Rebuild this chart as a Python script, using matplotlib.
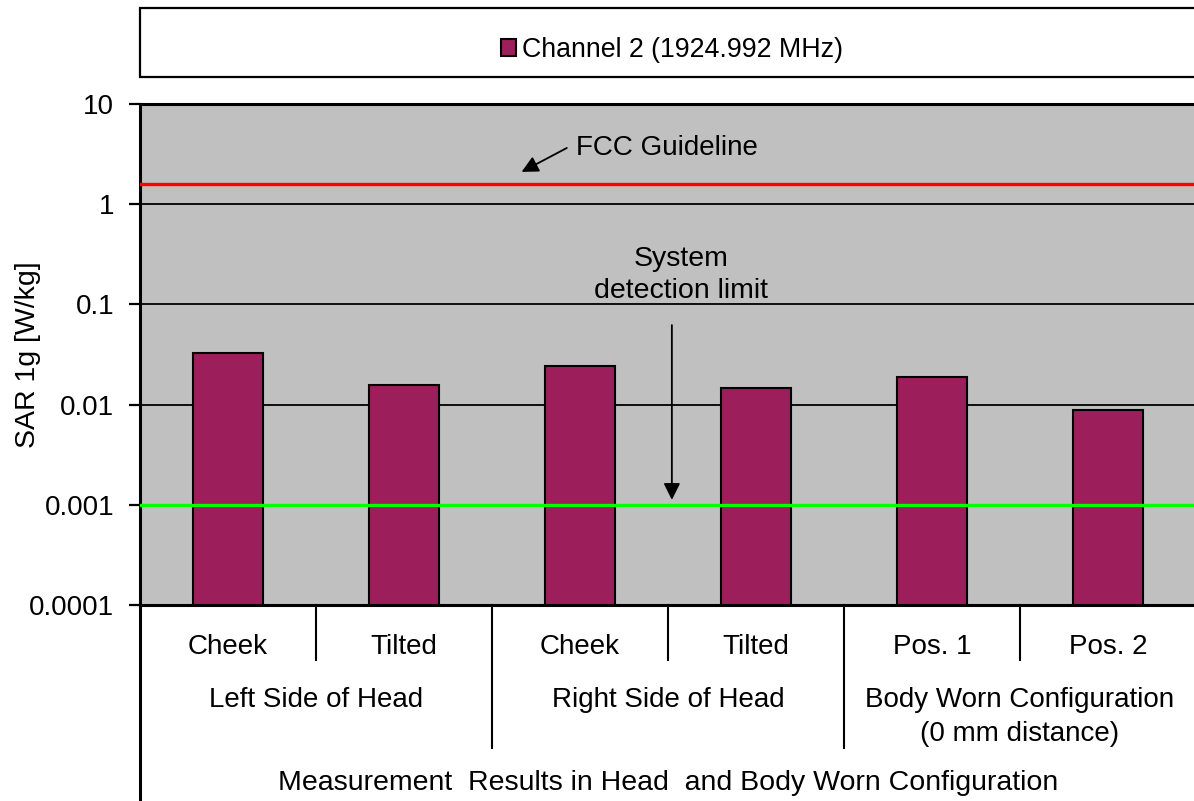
import matplotlib
matplotlib.use("Agg")
import matplotlib.pyplot as plt
from matplotlib.patches import Rectangle
from matplotlib.lines import Line2D

# ---- data ----
sub_labels = ["Cheek", "Tilted", "Cheek", "Tilted", "Pos. 1", "Pos. 2"]
group_labels = ["Left Side of Head", "Right Side of Head", "Body Worn Configuration\n(0 mm distance)"]
top_label = "Measurement  Results in Head  and Body Worn Configuration"
sar_values = [0.0330, 0.0156, 0.0245, 0.0147, 0.0189, 0.0089]
series_name = "Channel 2 (1924.992 MHz)"
fcc_limit = 1.6
detection_limit = 0.001
ytick_values = [0.0001, 0.001, 0.01, 0.1, 1, 10]
ytick_labels = ["0.0001", "0.001", "0.01", "0.1", "1", "10"]

W, H = 1194, 801
plt.rcParams['font.family'] = ['Liberation Sans', 'DejaVu Sans']
FS = 20

fig = plt.figure(figsize=(W / 100, H / 100), dpi=100)
fig.patch.set_facecolor('white')

left_px, right_px, top_px, bot_px = 140, 1196, 104, 605
ax = fig.add_axes([left_px / W, 1 - bot_px / H, (right_px - left_px) / W, (bot_px - top_px) / H])
ax.set_facecolor('#c0c0c0')
ax.set_yscale('log')
ax.set_ylim(1e-4, 10)
ax.set_xlim(-0.5, 5.5)

x = list(range(len(sar_values)))
ax.set_yticks(ytick_values)
ax.set_yticklabels(ytick_labels, fontsize=FS)
ax.yaxis.set_minor_locator(matplotlib.ticker.NullLocator())
ax.tick_params(axis='y', direction='out', length=8, width=1.6, pad=10.5)
ax.set_xticks([])
ax.yaxis.grid(True, which='major', color='black', linewidth=1.3, zorder=1)
ax.set_axisbelow(True)

bars = ax.bar(x, [v - 1e-4 for v in sar_values], bottom=1e-4, width=0.40,
              color='#9c1f5c', edgecolor='black', linewidth=1.5, zorder=3,
              label=series_name)

ax.axhline(fcc_limit, color='#ff0000', linewidth=2.4, zorder=4)
ax.axhline(detection_limit, color='#00ff00', linewidth=2.4, zorder=4)

for side in ['left', 'top', 'bottom']:
    ax.spines[side].set_linewidth(2.2)
    ax.spines[side].set_color('black')
ax.spines['right'].set_visible(False)

ax.set_ylabel("SAR 1g [W/kg]", fontsize=20.5, va='center')
ax.yaxis.set_label_coords((28 - left_px) / (right_px - left_px), 0.5)

# annotations
ax.text(1.98, 3.64, "FCC Guideline", fontsize=FS, ha='left', va='center')
ax.annotate("", xy=(1.668, 2.10), xycoords='data',
            xytext=(1.925, 3.64), textcoords='data',
            arrowprops=dict(arrowstyle='-|>', color='black', lw=1.3,
                            mutation_scale=25, shrinkA=0, shrinkB=0))
ax.text(2.573, 0.283, "System", fontsize=20.5, ha='center', va='center')
ax.text(2.573, 0.136, "detection limit", fontsize=20.5, ha='center', va='center')
ax.annotate("", xy=(2.522, 0.00112), xycoords='data', xytext=(2.522, 0.0622),
            textcoords='data',
            arrowprops=dict(arrowstyle='-|>', color='black', lw=1.3,
                            mutation_scale=25, shrinkA=0, shrinkB=0))

# category axis table
axh = bot_px - top_px
xt = ax.get_xaxis_transform()
def yf(py):
    return -(py - bot_px) / axh

for sx in [0.5, 2.5, 4.5]:
    ax.add_line(Line2D([sx, sx], [0, yf(660)], transform=xt, color='black', lw=1.5, clip_on=False))
for sx in [1.5, 3.5]:
    ax.add_line(Line2D([sx, sx], [0, yf(748)], transform=xt, color='black', lw=1.5, clip_on=False))
ax.add_line(Line2D([-0.5, -0.5], [0, yf(801)], transform=xt, color='black', lw=2.2, clip_on=False))

for xi, lab in zip(x, sub_labels):
    ax.text(xi, yf(647), lab, transform=xt, ha='center', va='center', fontsize=FS)
for gi, lab in enumerate(group_labels):
    lines = lab.split('\n')
    for li, line in enumerate(lines):
        ax.text(gi * 2 + 0.5, yf(700 + 34 * li), line, transform=xt, ha='center', va='center', fontsize=FS)
ax.text(2.5, yf(783), top_label, transform=xt, ha='center', va='center', fontsize=20.5)

# legend box
fig.patches.append(Rectangle((left_px / W, 1 - 77 / H), (W - left_px + 10) / W, 69 / H,
                             transform=fig.transFigure, facecolor='white', edgecolor='black',
                             linewidth=1.6, zorder=0))
fig.legend(handles=[bars], labels=[series_name], loc='center',
           bbox_to_anchor=(672 / W, 1 - 50 / H), frameon=False, fontsize=19.3,
           handlelength=0.55, handleheight=0.55, handletextpad=0.25, borderpad=0)

fig.savefig("out.png", dpi=100)
